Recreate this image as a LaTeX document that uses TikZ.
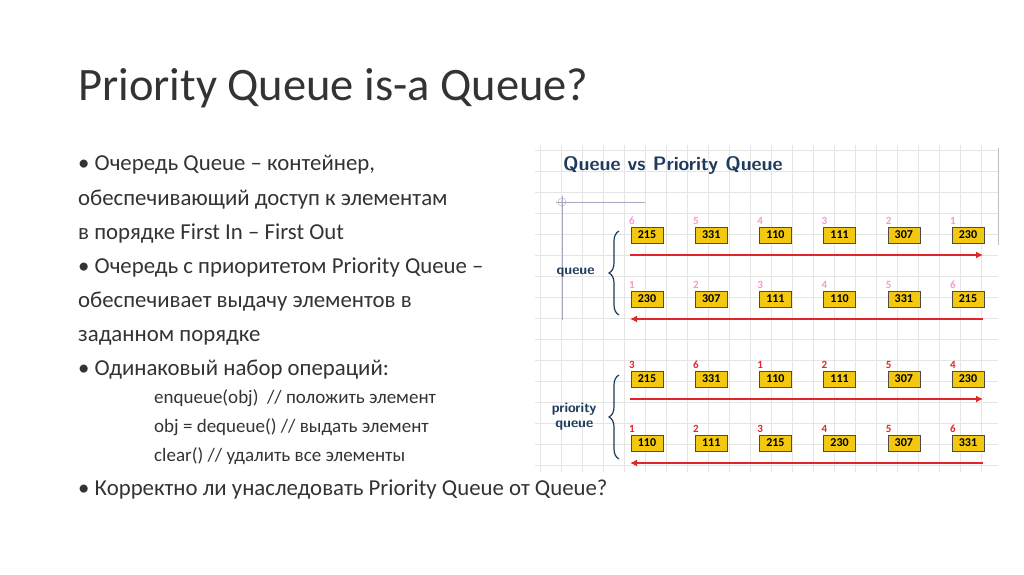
\documentclass[tikz,border=0pt]{standalone}
\usepackage{fontspec}
\setmainfont{Carlito}
\usetikzlibrary{decorations.pathreplacing,arrows.meta}
\definecolor{boxy}{HTML}{F2C811}
\definecolor{arr}{HTML}{E0262B}
\definecolor{ttl}{HTML}{1E3A5C}
\tikzset{
 val/.style={draw=black!70,fill=boxy,minimum width=32pt,minimum height=16pt,inner sep=0pt,font=\fontsize{12}{12}\selectfont\bfseries},
 idx/.style={font=\fontsize{11}{11}\selectfont\bfseries,anchor=south west,inner sep=0pt},
 flow/.style={arr,line width=1.4pt,-{Latex[length=7pt,width=7pt]}},
 txt/.style={anchor=base west,inner sep=0pt,font=\fontsize{22.8}{23}\selectfont,text=black!80},
 sub/.style={anchor=base west,inner sep=0pt,font=\fontsize{19}{19}\selectfont,text=black!80},
 lab/.style={font=\fontsize{14}{15}\selectfont\bfseries\sffamily,text=ttl,align=center},
 brc/.style={ttl,line width=1.2pt,decorate,decoration={brace,amplitude=10pt}}
}
\begin{document}
\begin{tikzpicture}[x=1pt,y=-1pt]
\useasboundingbox (0,0) rectangle (1024,574);
\fill[white] (0,0) rectangle (1024,574);
\node[anchor=base west,inner sep=0pt,font=\fontsize{46.5}{47}\selectfont,text=black!80] (title) at (78,100) {Priority Queue is-a Queue?};
\node[txt] (t1) at (78,170) {• Очередь Queue – контейнер,};
\node[txt] (t2) at (78,205) {обеспечивающий доступ к элементам};
\node[txt] (t3) at (78,239) {в порядке First In – First Out};
\node[txt] (t4) at (78,273) {• Очередь с приоритетом Priority Queue –};
\node[txt] (t5) at (78,307) {обеспечивает выдачу элементов в};
\node[txt] (t6) at (78,341) {заданном порядке};
\node[txt] (t7) at (78,375) {• Одинаковый набор операций:};
\node[sub] (s1) at (154,403) {enqueue(obj)\ \ // положить элемент};
\node[sub] (s2) at (154,432) {obj = dequeue() // выдать элемент};
\node[sub] (s3) at (154,461) {clear() // удалить все элементы};
\node[txt] (t8) at (78,495) {• Корректно ли унаследовать Priority Queue от Queue?};
% grid
\foreach \gx in {540,561,...,998} \draw[black!10,line width=0.6pt] (\gx,145) -- (\gx,472);
\foreach \gy in {150,171,...,472} \draw[black!10,line width=0.6pt] (535,\gy) -- (998,\gy);
\draw[black!25] (998,148) -- (998,245);
\draw[blue!30!black!35] (556,202) -- (645,202);
\draw[blue!30!black!35] (562,196) -- (562,320);
\draw[blue!30!black!35] (562,202) circle (4);
\node[anchor=base west,inner sep=0pt,font=\fontsize{19.5}{20}\selectfont\bfseries\sffamily,text=ttl] (qt) at (563,170) {Queue vs Priority Queue};
\foreach \r/\y/\vals/\nums/\nc in {
 a/235/{215,331,110,111,307,230}/{6,5,4,3,2,1}/magenta!40,
 b/299/{230,307,111,110,331,215}/{1,2,3,4,5,6}/magenta!40,
 c/379/{215,331,110,111,307,230}/{3,6,1,2,5,4}/arr,
 d/443/{110,111,215,230,307,331}/{1,2,3,4,5,6}/arr}{
 \foreach \v [count=\i] in \vals {
   \node[val] (\r\i) at ({647+64.2*(\i-1)},\y) {\v};
 }
 \foreach \n [count=\i] in \nums {
   \node[idx,text=\nc] (\r n\i) at ([yshift=2pt,xshift=-2pt]\r\i.north west) {\n};
 }
}
\coordinate (aL) at (630,255); \coordinate (aR) at (983,255);
\coordinate (bL) at (630,319); \coordinate (bR) at (983,319);
\coordinate (cL) at (630,399); \coordinate (cR) at (983,399);
\coordinate (dL) at (630,463); \coordinate (dR) at (983,463);
\draw[flow] (aL) -- (aR);
\draw[flow] (bR) -- (bL);
\draw[flow] (cL) -- (cR);
\draw[flow] (dR) -- (dL);
\draw[brc] (619,315) -- (619,231);
\draw[brc] (619,459) -- (619,375);
\node[lab,anchor=east] (ql) at (598,273) {queue};
\node[lab,anchor=east] (pl) at (600,417) {priority\\queue};
\end{tikzpicture}
\end{document}
